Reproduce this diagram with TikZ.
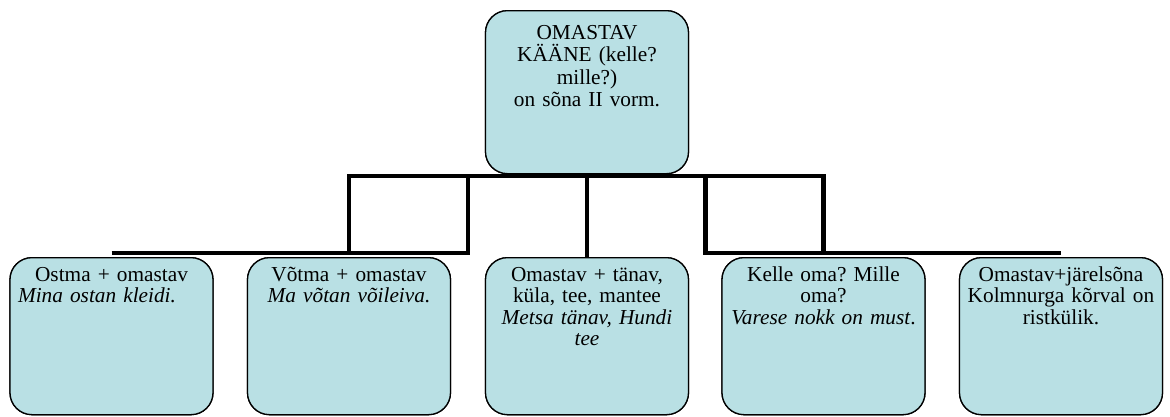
\documentclass[tikz,border=0pt]{standalone}
\usepackage{fontspec}
\setmainfont{Liberation Serif}
\usetikzlibrary{calc}
\frenchspacing
\definecolor{boxfill}{RGB}{185,224,228}
\tikzset{
  box/.style={draw=black, line width=1.3pt, fill=boxfill, rounded corners=22pt,
    minimum width=203pt, inner sep=0pt, anchor=north},
  topbox/.style={box, minimum height=163pt},
  lowbox/.style={box, minimum height=157pt},
  boxtext/.style={text width=205pt, align=center, anchor=base, inner sep=0pt,
    font=\fontsize{21.3}{21.6}\selectfont},
  toptext/.style={boxtext, font=\fontsize{21.3}{22.5}\selectfont},
  conn/.style={draw=black, line width=4.5pt, line join=miter}
}
\begin{document}
\begin{tikzpicture}[x=1pt,y=-1pt]
\useasboundingbox (0,0) rectangle (1170,416);
% connector levels
\coordinate (busT) at (0,176);
\coordinate (busB) at (0,253);
% boxes (placed first so that connectors can refer to them)
\node[topbox] (T) at (587,10) {};
\node[lowbox] (B1) at (111.5,257) {};
\node[lowbox] (B2) at (349,257) {};
\node[lowbox] (B3) at (587,257) {};
\node[lowbox] (B4) at (823.5,257) {};
\node[lowbox] (B5) at (1061,257) {};
\coordinate (g23) at ($(B2.east)!0.5!(B3.west)$);
\coordinate (g34) at ($(B3.east)!0.5!(B4.west)$);
% connectors
\path[conn] (B2.north |- busB) -- (B2.north |- busT) -- (B4.north |- busT) -- (B4.north |- busB);
\path[conn] (B3.north |- busT) -- (B3.north);
\path[conn] (B1.north |- busB) -| (g23 |- busT);
\path[conn] (B5.north |- busB) -| (g34 |- busT);
% redraw boxes on top of the connectors
\node[topbox] at (T.north) {};
\node[lowbox] at (B1.north) {};
\node[lowbox] at (B2.north) {};
\node[lowbox] at (B3.north) {};
\node[lowbox] at (B4.north) {};
\node[lowbox] at (B5.north) {};
% texts
\node[toptext] (Tt) at (587,39) {OMASTAV\\KÄÄNE (kelle?\\mille?)\\on sõna II vorm.};
\node[boxtext] (B1t) at (111.5,281) {Ostma + omastav\\\textit{Mina ostan kleidi.}\hspace{29pt}\mbox{}};
\node[boxtext] (B2t) at (349,281) {Võtma + omastav\\\textit{Ma võtan võileiva.}};
\node[boxtext] (B3t) at (587,281) {Omastav + tänav,\\küla, tee, mantee\\\textit{Metsa tänav, Hundi}\\\textit{tee}};
\node[boxtext] (B4t) at (823.5,281) {Kelle oma? Mille\\oma?\\\textit{Varese nokk on must}.};
\node[boxtext] (B5t) at (1061,281) {Omastav+järelsõna\\Kolmnurga kõrval on\\ristkülik.};
\end{tikzpicture}
\end{document}
